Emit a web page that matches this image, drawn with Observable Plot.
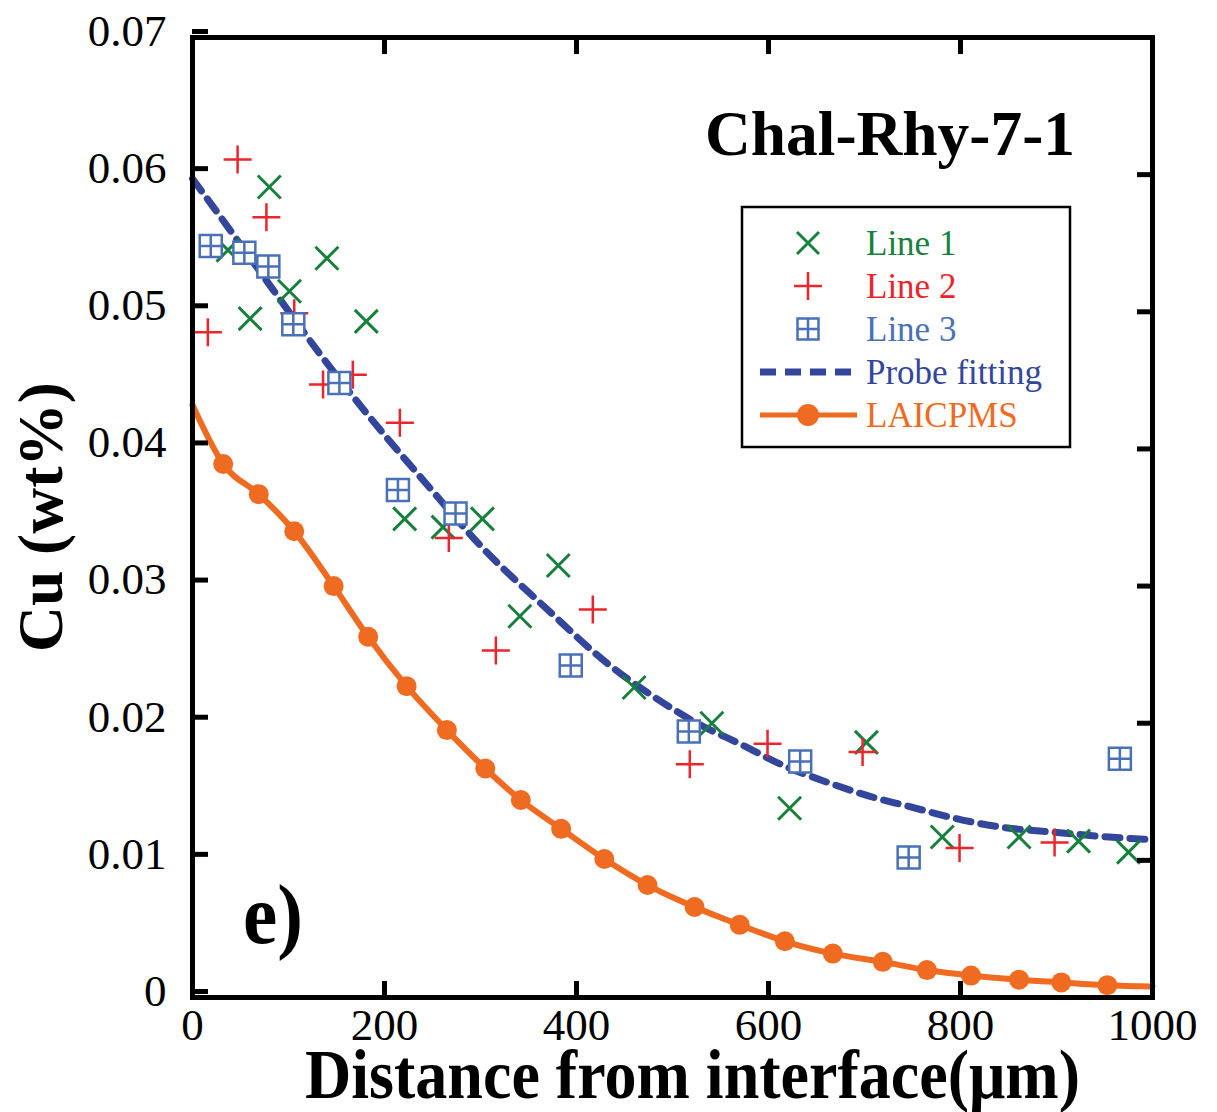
<!DOCTYPE html>
<html>
<head>
<meta charset="utf-8">
<script src="https://cdn.jsdelivr.net/npm/d3@7"></script>
<script src="https://cdn.jsdelivr.net/npm/@observablehq/plot@0.6"></script>
<style>
  body { margin: 0; background: #ffffff; }
  #chart { width: 1217px; height: 1112px; }
  #chart svg { display: block; }
</style>
</head>
<body>
<div id="chart"></div>
<script>
// Cu profile across the chalcopyrite / rhyolite interface (sample Chal-Rhy-7-1)

// EPMA traverse, line 1
const line1Dist = [37, 60, 80, 101, 140, 181, 221, 261, 302, 341, 381, 460, 541, 622, 702, 781, 861, 923, 975];
const line1Cu   = [0.0545, 0.0495, 0.0591, 0.0515, 0.0539, 0.0493, 0.0349, 0.0343, 0.0349, 0.0278, 0.0315,
                   0.0226, 0.0200, 0.0138, 0.0186, 0.0117, 0.0117, 0.0114, 0.0106];

// EPMA traverse, line 2
const line2Dist = [16, 47, 77, 106, 136, 167, 216, 267, 316, 417, 518, 599, 698, 799, 898];
const line2Cu   = [0.0485, 0.0611, 0.0569, 0.0499, 0.0447, 0.0454, 0.0419, 0.0335, 0.0253, 0.0283,
                   0.0170, 0.0185, 0.0179, 0.0109, 0.0113];

// EPMA traverse, line 3
const line3Dist = [19, 54, 79, 105, 153, 214, 274, 394, 517, 633, 746, 966];
const line3Cu   = [0.0548, 0.0543, 0.0533, 0.0491, 0.0448, 0.0370, 0.0353, 0.0242, 0.0194, 0.0172, 0.0102, 0.0174];

// Diffusion fit to the probe data
const probeFitDist = [0, 20, 84, 133, 186, 243, 302, 368, 435, 479, 523, 573, 616, 661, 704, 748, 792, 835, 906, 955, 1000];
const probeFitCu   = [0.0597, 0.0578, 0.0516, 0.0469, 0.0422, 0.0375, 0.0328, 0.0284, 0.0242, 0.0220, 0.0201,
                      0.0184, 0.0169, 0.0157, 0.0147, 0.0139, 0.0131, 0.0125, 0.0120, 0.0117, 0.0115];

// LA-ICP-MS profile (spots) and its fitted curve
const laDist = [32, 69, 106, 147, 183, 223, 265, 305, 342, 384, 429, 474, 523, 570, 617, 667, 719, 765, 811, 861, 905, 953];
const laCu   = [0.0389, 0.0367, 0.0340, 0.0300, 0.0263, 0.0227, 0.0195, 0.0167, 0.0144, 0.0123, 0.0101, 0.0082,
                0.0066, 0.0053, 0.0041, 0.0032, 0.0026, 0.0020, 0.0016, 0.0013, 0.0011, 0.0009];
const laFitDist = [0, ...laDist, 1000];
const laFitCu   = [0.0432, ...laCu, 0.0008];

// Axis ticks
const xTickValues = [0, 200, 400, 600, 800, 1000];
const xTickLabels = ["0", "200", "400", "600", "800", "1000"];
const yTickValues = [0, 0.01, 0.02, 0.03, 0.04, 0.05, 0.06, 0.07];
const yTickLabels = ["0", "0.01", "0.02", "0.03", "0.04", "0.05", "0.06", "0.07"];

// Series names
const seriesNames = ["Line 1", "Line 2", "Line 3", "Probe fitting", "LAICPMS"];

const colLine1 = "#17803c";
const colLine2 = "#ea252c";
const colLine3 = "#4a70b8";
const colProbe = "#34469c";
const colLA    = "#ef6b22";

const serif = "Liberation Serif, Times New Roman, Times, serif";

const toRows = (xs, ys) => xs.map((x, i) => ({x, y: ys[i]}));
const line1 = toRows(line1Dist, line1Cu);
const line2 = toRows(line2Dist, line2Cu);
const line3 = toRows(line3Dist, line3Cu);
const probeFit = toRows(probeFitDist, probeFitCu);
const laSpots = toRows(laDist, laCu);
const laFit = toRows(laFitDist, laFitCu);

// Marker shapes (half-size derived from symbol area)
const symTimes = {draw(ctx, size) {
  const s = Math.sqrt(size / Math.PI);
  ctx.moveTo(-s, -s); ctx.lineTo(s, s);
  ctx.moveTo(-s, s); ctx.lineTo(s, -s);
}};
const symPlus = {draw(ctx, size) {
  const s = Math.sqrt(size / Math.PI);
  ctx.moveTo(-s, 0); ctx.lineTo(s, 0);
  ctx.moveTo(0, -s); ctx.lineTo(0, s);
}};
const symBox = {draw(ctx, size) {
  const s = Math.sqrt(size / Math.PI);
  ctx.rect(-s, -s, 2 * s, 2 * s);
  ctx.moveTo(-s, 0); ctx.lineTo(s, 0);
  ctx.moveTo(0, -s); ctx.lineTo(0, s);
}};

const fmt = (values, labels) => d => labels[values.indexOf(d)];

const chart = Plot.plot({
  width: 1217,
  height: 1112,
  marginLeft: 192,
  marginRight: 65,
  marginTop: 37,
  marginBottom: 115,
  style: {fontFamily: serif, background: "#ffffff", color: "#000"},
  x: {domain: [0, 1000]},
  y: {domain: [0, 0.07]},
  marks: [
    // LA-ICP-MS curve and spots
    Plot.line(laFit, {x: "x", y: "y", stroke: colLA, strokeWidth: 6, curve: "monotone-x"}),
    Plot.dot(laSpots, {x: "x", y: "y", r: 10, fill: colLA, stroke: "none"}),
    // probe fit
    Plot.line(probeFit, {x: "x", y: "y", stroke: colProbe, strokeWidth: 7, strokeDasharray: "15,10", curve: "monotone-x"}),
    // probe traverses
    Plot.dot(line1, {x: "x", y: "y", r: 11.5, symbol: symTimes, fill: "none", stroke: colLine1, strokeWidth: 3}),
    Plot.dot(line2, {x: "x", y: "y", r: 14, symbol: symPlus, fill: "none", stroke: colLine2, strokeWidth: 2.5}),
    Plot.dot(line3, {x: "x", y: "y", r: 11, symbol: symBox, fill: "#ffffff", stroke: colLine3, strokeWidth: 2.5}),
    // axes: inward ticks on all four sides
    Plot.axisX({anchor: "bottom", ticks: xTickValues, tickFormat: fmt(xTickValues, xTickLabels),
      tickSize: -16, tickPadding: 27, strokeWidth: 5, fontSize: 45, label: null, fill: "#000"}),
    Plot.axisX({anchor: "top", ticks: xTickValues, tickFormat: () => "",
      tickSize: -16, strokeWidth: 5, label: null}),
    Plot.axisY({anchor: "left", ticks: yTickValues, tickFormat: fmt(yTickValues, yTickLabels),
      tickSize: -16, tickPadding: 42, strokeWidth: 5, fontSize: 45, dy: -6, label: null, fill: "#000"}),
    Plot.axisY({anchor: "right", ticks: yTickValues, tickFormat: () => "",
      tickSize: -16, strokeWidth: 5, label: null}),
    Plot.frame({stroke: "#000", strokeWidth: 5})
  ]
});

const svg = d3.select(chart);

// axis titles
svg.append("text")
  .attr("x", 305).attr("y", 1098)
  .attr("text-anchor", "start")
  .attr("font-family", serif).attr("font-weight", "bold").attr("font-size", 70)
  .attr("textLength", 775).attr("lengthAdjust", "spacingAndGlyphs")
  .attr("fill", "#000")
  .text("Distance from interface(μm)");

svg.append("text")
  .attr("transform", "translate(62,652) rotate(-90)")
  .attr("text-anchor", "start")
  .attr("font-family", serif).attr("font-weight", "bold").attr("font-size", 64)
  .attr("textLength", 270).attr("lengthAdjust", "spacingAndGlyphs")
  .attr("fill", "#000")
  .text("Cu (wt%)");

// sample name and panel letter
svg.append("text")
  .attr("x", 705).attr("y", 155)
  .attr("text-anchor", "start")
  .attr("font-family", serif).attr("font-weight", "bold").attr("font-size", 63)
  .attr("textLength", 370).attr("lengthAdjust", "spacingAndGlyphs")
  .attr("fill", "#000")
  .text("Chal-Rhy-7-1");

svg.append("text")
  .attr("x", 243).attr("y", 943)
  .attr("text-anchor", "start")
  .attr("font-family", serif).attr("font-weight", "bold").attr("font-size", 84)
  .attr("textLength", 60).attr("lengthAdjust", "spacingAndGlyphs")
  .attr("fill", "#000")
  .text("e)");

// legend
const lg = svg.append("g");
lg.append("rect")
  .attr("x", 742).attr("y", 207).attr("width", 328).attr("height", 240)
  .attr("fill", "#ffffff").attr("stroke", "#000").attr("stroke-width", 2.5);

const rowY = i => 243 + i * 43;
const symX = 808;
const textX = 866;
const legendColors = [colLine1, colLine2, colLine3, colProbe, colLA];

const symPath = (sym, r) => d3.symbol(sym, Math.PI * r * r)();
lg.append("path").attr("transform", `translate(${symX},${rowY(0)})`)
  .attr("d", symPath(symTimes, 11)).attr("fill", "none").attr("stroke", colLine1).attr("stroke-width", 3);
lg.append("path").attr("transform", `translate(${symX},${rowY(1)})`)
  .attr("d", symPath(symPlus, 14)).attr("fill", "none").attr("stroke", colLine2).attr("stroke-width", 2.5);
lg.append("path").attr("transform", `translate(${symX},${rowY(2)})`)
  .attr("d", symPath(symBox, 10.5)).attr("fill", "#ffffff").attr("stroke", colLine3).attr("stroke-width", 2.5);
lg.append("line")
  .attr("x1", 760).attr("x2", 857).attr("y1", rowY(3)).attr("y2", rowY(3))
  .attr("stroke", colProbe).attr("stroke-width", 7).attr("stroke-dasharray", "16,9");
lg.append("line")
  .attr("x1", 760).attr("x2", 857).attr("y1", rowY(4)).attr("y2", rowY(4))
  .attr("stroke", colLA).attr("stroke-width", 5);
lg.append("circle")
  .attr("cx", symX).attr("cy", rowY(4)).attr("r", 11).attr("fill", colLA);

seriesNames.forEach((name, i) => {
  lg.append("text")
    .attr("x", textX).attr("y", rowY(i) + 12)
    .attr("text-anchor", "start")
    .attr("font-family", serif).attr("font-size", 35)
    .attr("fill", legendColors[i])
    .text(name);
});

document.getElementById("chart").appendChild(chart);
</script>
</body>
</html>
